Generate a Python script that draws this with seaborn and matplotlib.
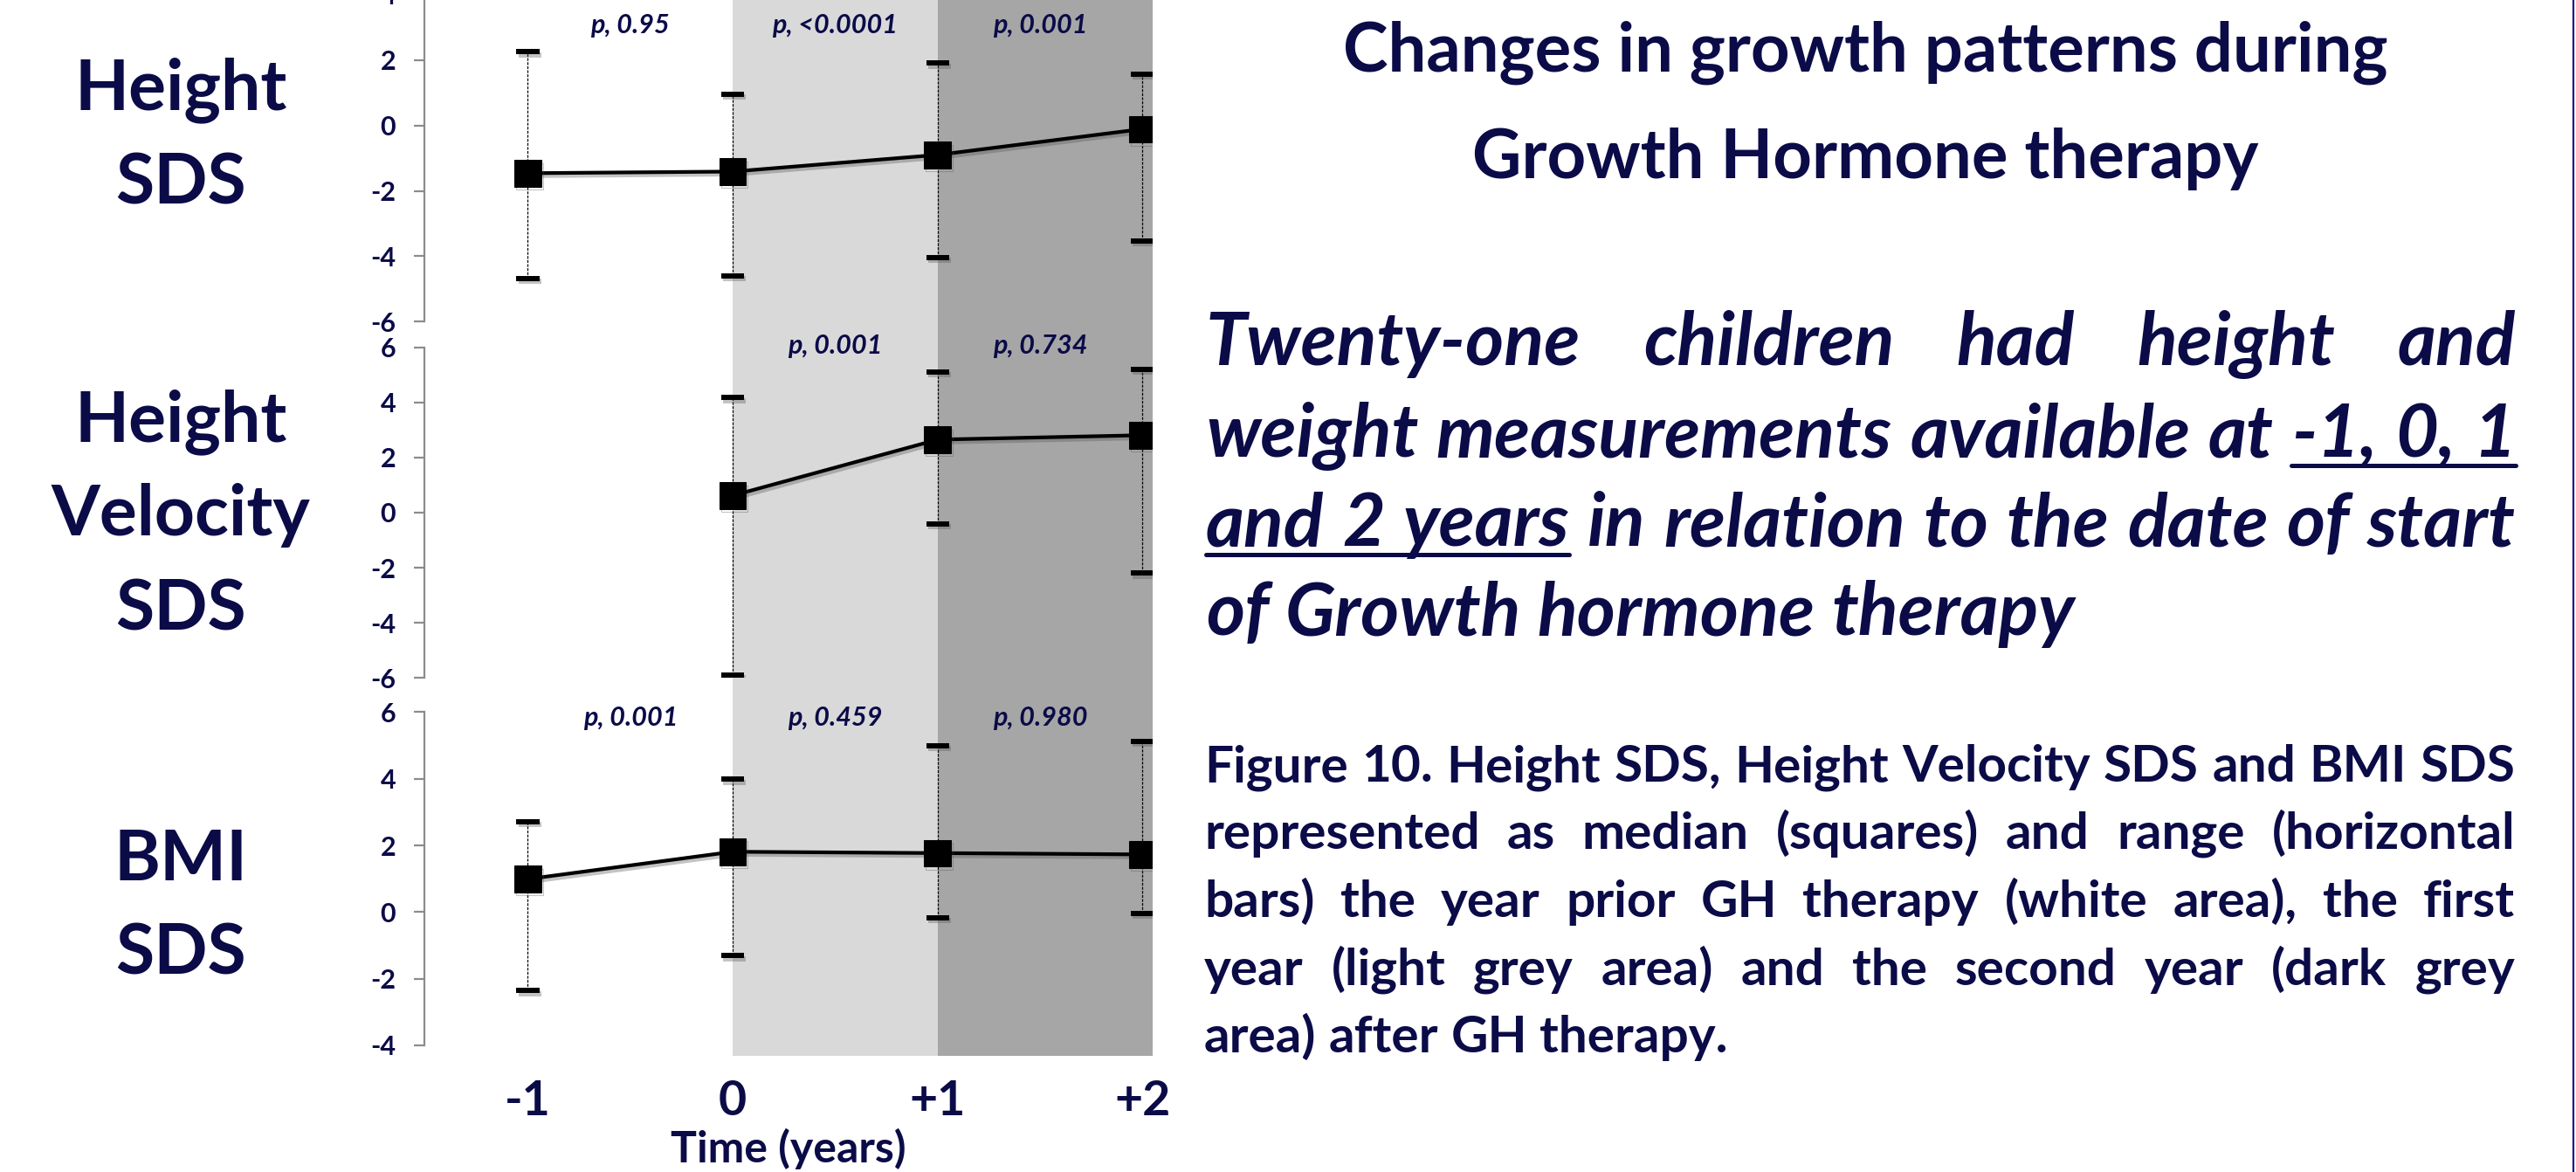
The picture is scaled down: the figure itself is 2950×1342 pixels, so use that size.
import matplotlib
matplotlib.use('Agg')
import numpy as np
import matplotlib.pyplot as plt
from matplotlib.lines import Line2D
import matplotlib.patheffects as pe
import seaborn as sns

sns.set_style('white')
plt.rcParams['font.family'] = ['Lato', 'DejaVu Sans']
plt.rcParams['axes.unicode_minus'] = False

NAVY = '#0b0b48'
W, H = 2950, 1342

# ---- data ----
time_all = [-1, 0, 1, 2]
time_hv = [0, 1, 2]

height_med = [-1.46, -1.41, -0.90, -0.11]
height_low = [-4.68, -4.60, -4.04, -3.53]
height_high = [2.26, 0.96, 1.91, 1.57]

hv_med = [0.62, 2.65, 2.81]
hv_low = [-5.88, -0.41, -2.19]
hv_high = [4.18, 5.11, 5.21]

bmi_med = [0.99, 1.81, 1.77, 1.73]
bmi_low = [-2.35, -1.31, -0.17, -0.03]
bmi_high = [2.71, 3.98, 4.99, 5.12]

p_x = [-0.5, 0.5, 1.5]
p_height = ['p, 0.95', 'p, <0.0001', 'p, 0.001']
p_hv = ['', 'p, 0.001', 'p, 0.734']
p_bmi = ['p, 0.001', 'p, 0.459', 'p, 0.980']

x_labels = ['-1', '0', '+1', '+2']

fig = plt.figure(figsize=(W / 100, H / 100), dpi=100)
renderer = fig.canvas.get_renderer()


def px_box(left, top, right, bottom):
    return [left / W, 1 - bottom / H, (right - left) / W, (bottom - top) / H]


def text_width(s, **kw):
    t = fig.text(0, 0, s, **kw)
    w = t.get_window_extent(renderer).width
    t.remove()
    return w


def fit_size(lines, target, max_size, **kw):
    # largest font size (<= max_size) so the widest line fits target px
    widest = max(text_width(s, fontsize=max_size, **kw) for s in lines)
    return min(max_size, max_size * target / widest)


XLIM = (-1.505, 2.05)

# shaded background behind all three panels
bg = fig.add_axes(px_box(486, 0, 1320, 1209))
bg.axvspan(0, 1, color='#d9d9d9', lw=0)
bg.axvspan(1, XLIM[1], color='#a6a6a6', lw=0)
bg.set_xlim(XLIM)
bg.axis('off')

panels = [
    # top px, bottom px, ylim, x, med, low, high, p labels, p y, side label, label baselines
    (-6.1, 368.3, (-6, 4), time_all, height_med, height_low, height_high,
     p_height, 2.82, ['Height', 'SDS'], [125, 233]),
    (397.7, 776.3, (-6, 6), time_hv, hv_med, hv_low, hv_high,
     p_hv, 5.77, ['Height', 'Velocity', 'SDS'], [505, 613, 722]),
    (815.4, 1197, (-4, 6), time_all, bmi_med, bmi_low, bmi_high,
     p_bmi, 5.59, ['BMI', 'SDS'], [1008, 1116]),
]

side_size = fit_size(['Velocity'], 300, 58, fontweight='bold')
xlab_size = fit_size(['Time (years)'], 272, 36, fontweight='bold')

shadow = [pe.SimpleLineShadow(offset=(1.5, -2.5), alpha=0.35, shadow_color='#555555'), pe.Normal()]

for i, (top, bottom, ylim, xs, med, low, high, plabs, py, side, basel) in enumerate(panels):
    ax = fig.add_axes(px_box(486, top, 1320, bottom))
    ax.patch.set_alpha(0)
    med_a = np.array(med)
    eb = ax.errorbar(xs, med, yerr=[med_a - np.array(low), np.array(high) - med_a],
                     fmt='none', ecolor='black', elinewidth=0.9, capsize=9.4,
                     capthick=4.3, zorder=2)
    eb[2][0].set_linestyle((0, (2.5, 1.2)))
    for cap in eb[1]:
        cap.set_path_effects(shadow)
    sns.lineplot(x=xs, y=med, ax=ax, color='black', lw=3, marker='s',
                 markersize=22, markeredgecolor='black', zorder=3,
                 path_effects=shadow)
    ax.set_xlim(XLIM)
    ax.set_ylim(ylim)
    ax.set_yticks(np.arange(ylim[0], ylim[1] + 1, 2))
    for s in ['top', 'right', 'bottom']:
        ax.spines[s].set_visible(False)
    ax.spines['left'].set_color('#8c8c8c')
    ax.spines['left'].set_linewidth(1.6)
    ax.tick_params(axis='y', left=True, length=8.6, width=1.6, color='#8c8c8c',
                   pad=15, labelsize=22, labelcolor=NAVY)
    for t in ax.get_yticklabels():
        t.set_fontweight('bold')
    ax.set_xticks(time_all)
    if i == 2:
        ax.set_xticklabels(x_labels, fontsize=40, fontweight='bold', color=NAVY)
        ax.tick_params(axis='x', length=0, pad=28)
        ax.set_xlabel('Time (years)', fontsize=xlab_size, fontweight='bold',
                      color=NAVY, labelpad=4)
    else:
        ax.set_xticklabels([])
        ax.tick_params(axis='x', length=0)
    for xp, lab in zip(p_x, plabs):
        if lab:
            ax.text(xp, py, lab, ha='center', va='baseline', fontsize=22,
                    fontweight='bold', fontstyle='italic', color=NAVY, clip_on=False)
    for word, b in zip(side, basel):
        fig.text(207 / W, 1 - b / H, word, ha='center', va='baseline',
                 fontsize=side_size, fontweight='bold', color=NAVY)

# ---- text block on the right ----
title_size = fit_size(['Changes in growth patterns during'], 1232, 56, fontweight='bold')
fig.text(2136 / W, 1 - 82 / H, 'Changes in growth patterns during', ha='center',
         va='baseline', fontsize=title_size, fontweight='bold', color=NAVY)
fig.text(2136 / W, 1 - 204 / H, 'Growth Hormone therapy', ha='center',
         va='baseline', fontsize=title_size, fontweight='bold', color=NAVY)


def put_line(words, x0, x1, y, justify=True, underline=None, ul_off=10, ul_lw=3.6, **kw):
    texts = [fig.text(0, 1 - y / H, w, ha='left', va='baseline', **kw) for w in words]
    widths = [t.get_window_extent(renderer).width for t in texts]
    space = text_width('x x', **kw) - text_width('xx', **kw)
    if justify and len(words) > 1:
        gap = (x1 - x0 - sum(widths)) / (len(words) - 1)
    else:
        gap = space
    x = x0
    starts = []
    for t, w in zip(texts, widths):
        t.set_x(x / W)
        starts.append(x)
        x += w + gap
    if underline is not None:
        a, b = underline
        xa = starts[a]
        xb = starts[b] + widths[b]
        fig.add_artist(Line2D([xa / W, xb / W], [1 - (y + ul_off) / H] * 2,
                              transform=fig.transFigure, color=kw.get('color', NAVY), lw=ul_lw))


para = ['Twenty-one children had height and',
        'weight measurements available at -1, 0, 1',
        'and 2 years in relation to the date of start',
        'of Growth hormone therapy']
para_base = [418, 523, 625, 727]
para_ul = [None, (4, 6), (0, 2), None]
para_size = fit_size(para[1:3], 1490, 62, fontweight='bold', fontstyle='italic')
para_kw = dict(fontsize=para_size, fontweight='bold', fontstyle='italic', color=NAVY)
for k, (line, yb, ul) in enumerate(zip(para, para_base, para_ul)):
    put_line(line.split(), 1381, 2881, yb, justify=(k < len(para) - 1),
             underline=ul, **para_kw)

caption = ['Figure 10. Height SDS, Height Velocity SDS and BMI SDS',
           'represented as median (squares) and range (horizontal',
           'bars) the year prior GH therapy (white area), the first',
           'year (light grey area) and the second year (dark grey',
           'area) after GH therapy.']
cap_base = [895, 972, 1050, 1128, 1205]
cap_size = fit_size(caption[:4], 1490, 44, fontweight='bold')
cap_kw = dict(fontsize=cap_size, fontweight='bold', color=NAVY)
for k, (line, yb) in enumerate(zip(caption, cap_base)):
    put_line(line.split(), 1379, 2880, yb, justify=(k < len(caption) - 1), **cap_kw)

# thin border on the right edge
fig.add_artist(Line2D([2947 / W] * 2, [0, 1], transform=fig.transFigure,
                      color='#1c1c8c', lw=1.6))

fig.savefig('out.png', dpi=100)
